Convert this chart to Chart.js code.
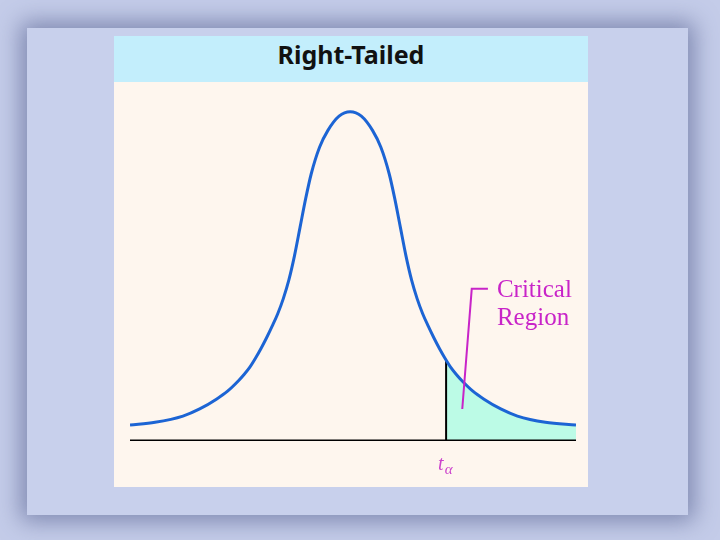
<!DOCTYPE html>
<html>
<head>
<meta charset="utf-8">
<script src="https://cdn.jsdelivr.net/npm/chart.js@4/dist/chart.umd.min.js"></script>
<style>
    html, body { margin: 0; padding: 0; }
    body {
        width: 720px; height: 540px; overflow: hidden; position: relative;
        background: #c4cce9;
    }
    #panel {
        position: absolute; left: 27px; top: 28px; width: 661px; height: 487px;
        background: #c8d0ec;
        box-shadow: 0 0 22px 6px rgba(70, 80, 130, 0.55);
    }
    #card {
        position: absolute; left: 114px; top: 36px; width: 474px; height: 451px;
        background: #fef6ee;
    }
    #titlebar {
        position: absolute; left: 0; top: 0; width: 474px; height: 46px;
        background: #c3eefc;
        font-family: "Noto Sans", sans-serif; font-weight: bold; font-size: 25px;
        color: #111; text-align: center; line-height: 37px;
    }
    #wrap { position: absolute; left: 0; top: 46px; width: 474px; height: 405px; }
</style>
</head>
<body>
<div id="panel"></div>
<div id="card">
    <div id="titlebar">Right-Tailed</div>
    <div id="wrap"><canvas id="curveChart"></canvas></div>
</div>
<script>
// values (t on x, density on y)
var curveX = [-3.95, -3.5, -3.0, -2.7, -2.4, -2.2, -2.0, -1.9, -1.8, -1.7, -1.6, -1.5, -1.4, -1.3, -1.2, -1.1, -1.0, -0.9, -0.8, -0.7, -0.55, -0.4, -0.2, 0,
              0.2, 0.4, 0.55, 0.7, 0.8, 0.9, 1.0, 1.1, 1.2, 1.3, 1.4, 1.5, 1.6, 1.7, 1.8, 1.9, 2.0, 2.2, 2.4, 2.7, 3.0, 3.5, 4.05];
var curveY = [0.018, 0.021, 0.028, 0.036, 0.047, 0.056, 0.068, 0.075, 0.083, 0.093, 0.104, 0.116, 0.129, 0.143, 0.160, 0.181, 0.208, 0.240, 0.272, 0.300, 0.330, 0.349, 0.365, 0.370,
              0.365, 0.349, 0.330, 0.300, 0.272, 0.240, 0.208, 0.181, 0.160, 0.143, 0.129, 0.116, 0.104, 0.093, 0.083, 0.075, 0.068, 0.056, 0.047, 0.036, 0.028, 0.021, 0.018];

var tAlpha = 1.72;
var tAlphaY = 0.091;
var tailX = [1.72, 1.8, 1.9, 2.0, 2.2, 2.4, 2.7, 3.0, 3.5, 4.05];
var tailY = [0.091, 0.083, 0.075, 0.068, 0.056, 0.047, 0.036, 0.028, 0.021, 0.018];

var baseX = [-3.95, 4.05];
var leadX = [2.01, 2.18, 2.47];
var leadY = [0.036, 0.171, 0.171];

var labelLines = ['Critical', 'Region'];

function pts(xs, ys) {
    return xs.map(function (x, i) { return { x: x, y: ys[i] }; });
}

var magenta = '#c824c8';

// text labels: "Critical Region" and t-alpha
var labelPlugin = {
    id: 'labels',
    afterDatasetsDraw: function (chart) {
        var ctx = chart.ctx;
        var xs = chart.scales.x, ys = chart.scales.y;
        ctx.save();
        ctx.fillStyle = magenta;
        ctx.font = '25px "Liberation Serif", serif';
        ctx.textBaseline = 'alphabetic';
        var lx = xs.getPixelForValue(leadX[2]) + 9;
        var ly = ys.getPixelForValue(leadY[2]) + 8;
        labelLines.forEach(function (s, i) {
            ctx.fillText(s, lx, ly + i * 28);
        });
        var tx = xs.getPixelForValue(tAlpha) - 8;
        var ty = ys.getPixelForValue(0) + 29;
        ctx.fillStyle = '#cc44cc';
        ctx.font = 'italic 20px "Liberation Serif", serif';
        ctx.fillText('t', tx, ty);
        var w = ctx.measureText('t').width;
        ctx.font = 'italic 15px "Liberation Serif", serif';
        ctx.fillText('\u03b1', tx + w + 1, ty + 4);
        ctx.restore();
    }
};

var chart = new Chart(document.getElementById('curveChart'), {
    type: 'line',
    data: {
        datasets: [
            {
                data: pts(tailX, tailY),
                borderWidth: 0,
                backgroundColor: '#bcfbe6',
                fill: 'origin',
                cubicInterpolationMode: 'monotone',
                pointRadius: 0,
                order: 5
            },
            {
                data: pts(curveX, curveY),
                borderColor: '#1c64d4',
                borderWidth: 3,
                fill: false,
                cubicInterpolationMode: 'monotone',
                pointRadius: 0,
                order: 1
            },
            {
                data: [{ x: tAlpha, y: 0 }, { x: tAlpha, y: tAlphaY }],
                borderColor: '#000',
                borderWidth: 2,
                pointRadius: 0,
                order: 3
            },
            {
                data: pts(baseX, [0, 0]),
                borderColor: '#000',
                borderWidth: 3,
                pointRadius: 0,
                order: 2
            },
            {
                data: pts(leadX, leadY),
                borderColor: magenta,
                borderWidth: 2,
                pointRadius: 0,
                order: 0
            }
        ]
    },
    options: {
        responsive: true,
        maintainAspectRatio: false,
        animation: false,
        layout: { padding: { left: 16, right: 12, top: 3, bottom: 46 } },
        scales: {
            x: { type: 'linear', min: -3.95, max: 4.05, display: false },
            y: { min: 0, max: 0.4, display: false }
        },
        plugins: {
            legend: { display: false },
            tooltip: { enabled: false }
        }
    },
    plugins: [labelPlugin]
});
</script>
</body>
</html>
